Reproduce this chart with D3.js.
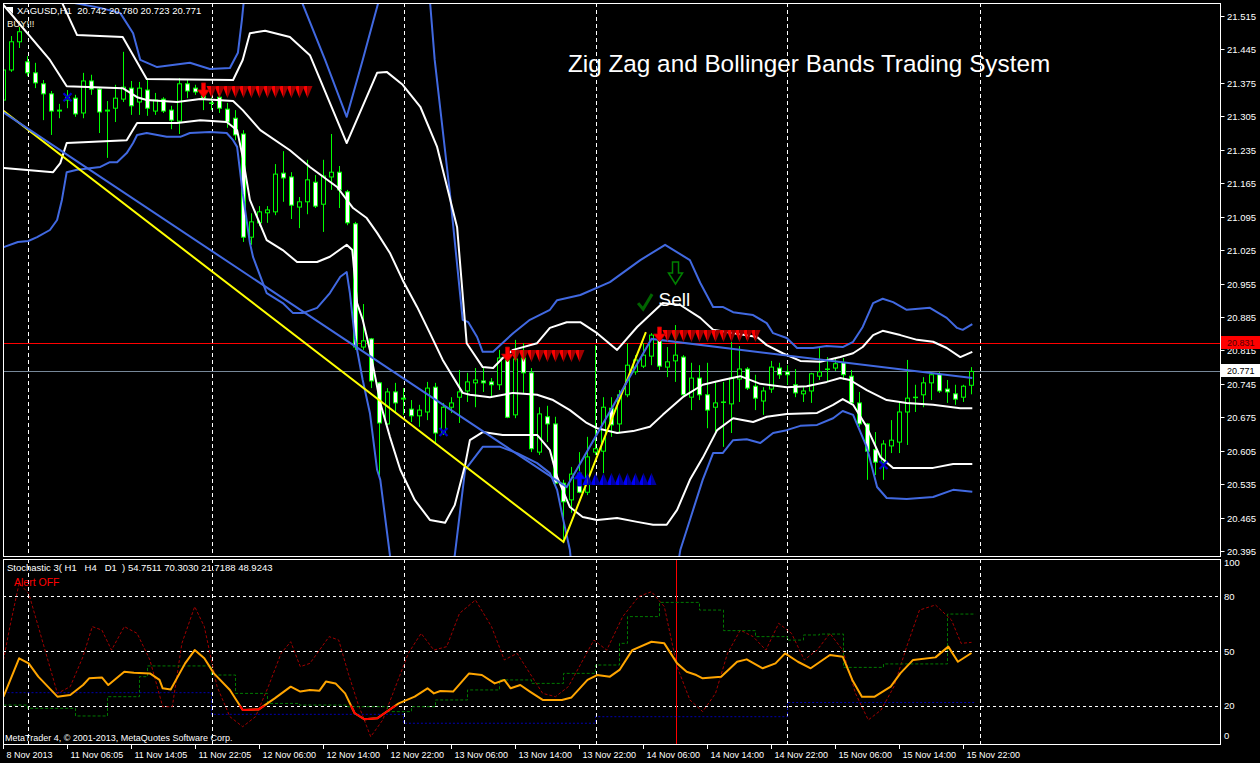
<!DOCTYPE html>
<html>
<head>
<meta charset="utf-8">
<script src="https://cdn.jsdelivr.net/npm/d3@7"></script>
<style>
  html, body { margin: 0; padding: 0; background: #000; overflow: hidden; }
  svg text { font-family: "Liberation Sans", Arial, sans-serif; white-space: pre; }
</style>
</head>
<body>
<svg id="chart" width="1260" height="763"></svg>
<script>
// ---- XAGUSD H1 candles (bar index 0 .. 121) ----
const opens = [21.339,21.402,21.461,21.419,21.396,21.373,21.352,21.316,21.339,21.343,
  21.312,21.379,21.362,21.316,21.322,21.341,21.364,21.335,21.360,21.316,
  21.341,21.318,21.295,21.373,21.364,21.348,21.333,21.345,21.320,21.301,
  21.268,21.052,21.082,21.103,21.105,21.186,21.178,21.115,21.126,21.167,
  21.121,21.178,21.188,21.147,21.080,20.822,20.839,20.747,20.661,20.728,
  20.713,20.692,20.678,20.686,20.738,20.642,20.696,20.717,20.730,20.747,
  20.751,20.749,20.743,20.795,20.680,20.799,20.768,20.602,20.676,20.661,
  20.537,20.502,20.558,20.518,20.602,20.604,20.694,20.661,20.722,20.770,
  20.782,20.803,20.837,20.780,20.793,20.801,20.717,20.757,20.722,20.696,
  20.707,20.703,20.755,20.776,20.740,20.709,20.734,20.778,20.770,20.743,
  20.724,20.730,20.761,20.776,20.778,20.789,20.761,20.705,20.661,20.607,
  20.581,20.615,20.623,20.686,20.717,20.722,20.747,20.764,20.734,20.724,
  20.717,20.742];
const highs = [21.465,21.473,21.492,21.431,21.417,21.381,21.358,21.331,21.360,21.350,
  21.396,21.392,21.366,21.337,21.371,21.440,21.379,21.377,21.385,21.354,
  21.345,21.327,21.385,21.381,21.371,21.354,21.345,21.354,21.333,21.318,
  21.276,21.102,21.117,21.117,21.205,21.232,21.188,21.136,21.214,21.182,
  21.214,21.268,21.201,21.151,21.084,20.912,20.841,20.749,20.736,20.747,
  20.736,20.711,20.701,20.749,20.747,20.705,20.717,20.774,20.768,20.778,
  20.780,20.757,20.816,20.820,20.837,20.830,20.778,20.696,20.699,20.676,
  20.544,20.571,20.602,20.634,20.826,20.717,20.717,20.732,20.830,20.805,
  20.830,20.851,20.843,20.822,20.868,20.805,20.789,20.784,20.789,20.749,
  20.749,20.833,20.824,20.780,20.764,20.738,20.793,20.789,20.784,20.776,
  20.738,20.768,20.820,20.801,20.799,20.799,20.774,20.728,20.663,20.644,
  20.627,20.669,20.705,20.795,20.743,20.759,20.770,20.770,20.753,20.743,
  20.743,20.780];
const lows = [21.297,21.398,21.448,21.389,21.364,21.297,21.266,21.301,21.322,21.304,
  21.301,21.350,21.270,21.218,21.293,21.335,21.308,21.308,21.306,21.308,
  21.312,21.278,21.268,21.343,21.350,21.318,21.318,21.312,21.281,21.255,
  21.042,21.036,21.075,21.082,21.098,21.126,21.090,21.071,21.100,21.113,
  21.063,21.151,21.113,21.077,20.816,20.816,20.736,20.554,20.659,20.686,
  20.680,20.665,20.655,20.669,20.621,20.638,20.684,20.663,20.707,20.696,
  20.728,20.717,20.732,20.673,20.673,20.726,20.602,20.596,20.623,20.533,
  20.414,20.475,20.516,20.512,20.596,20.558,20.634,20.642,20.717,20.764,
  20.778,20.784,20.774,20.759,20.749,20.717,20.690,20.711,20.652,20.644,
  20.613,20.642,20.707,20.732,20.690,20.680,20.726,20.755,20.743,20.717,
  20.707,20.705,20.753,20.749,20.772,20.753,20.701,20.655,20.544,20.554,
  20.544,20.600,20.600,20.617,20.686,20.696,20.711,20.726,20.705,20.701,
  20.707,20.723];
const closes = [21.402,21.461,21.482,21.396,21.375,21.352,21.316,21.318,21.345,21.310,
  21.379,21.362,21.314,21.318,21.343,21.366,21.327,21.364,21.322,21.339,
  21.316,21.297,21.373,21.358,21.356,21.343,21.332,21.322,21.293,21.266,
  21.052,21.084,21.105,21.109,21.184,21.176,21.119,21.126,21.172,21.117,
  21.180,21.188,21.151,21.082,20.822,20.835,20.751,20.663,20.728,20.705,
  20.715,20.678,20.690,20.736,20.642,20.696,20.705,20.728,20.749,20.753,
  20.747,20.743,20.799,20.675,20.797,20.768,20.609,20.682,20.661,20.537,
  20.498,20.556,20.518,20.592,20.609,20.696,20.659,20.722,20.784,20.795,
  20.805,20.847,20.782,20.791,20.805,20.722,20.757,20.722,20.690,20.705,
  20.706,20.757,20.776,20.736,20.715,20.730,20.780,20.764,20.764,20.726,
  20.730,20.766,20.770,20.775,20.787,20.764,20.705,20.661,20.604,20.581,
  20.619,20.627,20.686,20.715,20.716,20.747,20.764,20.730,20.728,20.713,
  20.740,20.771];

// ---- Bollinger band lines, [bar, price] ----
const bbUpperWhite = [[6.4,21.590],[7.4,21.540],[9.2,21.475],[14.9,21.471],[17.9,21.383],[28.7,21.381],
  [29.9,21.423],[30.8,21.479],[32.7,21.484],[35.8,21.471],[38.3,21.433],[42.9,21.249],[46.7,21.396],
  [47.9,21.398],[49.9,21.371],[52.1,21.325],[54.2,21.241],[56.7,21.073],[57.9,20.830],[59.9,20.780],
  [61.2,20.778],[62.4,20.799],[63.7,20.816],[66.7,20.830],[68.3,20.862],[70.4,20.874],[72.1,20.874],
  [74.2,20.851],[76.7,20.816],[79.2,20.864],[82.4,20.914],[84.6,20.910],[87.1,20.883],[88.7,20.858],
  [94.2,20.843],[95.4,20.826],[97.4,20.809],[99.6,20.793],[102.1,20.791],[104.6,20.801],[106.2,20.809],
  [107.4,20.822],[108.7,20.847],[109.9,20.856],[112.1,20.847],[114.2,20.837],[116.2,20.833],
  [117.9,20.820],[119.6,20.801],[121.1,20.812]];
const bbMiddle = [[0,21.538],[5.8,21.423],[7.9,21.368],[14.9,21.364],[16.7,21.345],[17.9,21.339],
  [21.7,21.335],[24.6,21.341],[28.7,21.337],[29.9,21.318],[32.1,21.276],[35.8,21.234],[38.3,21.199],
  [41.7,21.157],[43.7,21.113],[45.4,21.092],[46.7,21.061],[48.3,21.019],[49.9,20.962],[51.7,20.906],
  [53.3,20.851],[54.9,20.795],[57.4,20.726],[58.3,20.722],[60.8,20.717],[63.7,20.726],[66.7,20.722],
  [68.7,20.711],[70.8,20.690],[72.9,20.663],[74.2,20.652],[76.7,20.642],[78.7,20.646],[80.8,20.655],
  [82.4,20.680],[84.9,20.717],[87.4,20.743],[89.9,20.753],[92.1,20.761],[94.6,20.745],[97.9,20.738],
  [100.4,20.740],[102.9,20.749],[104.6,20.757],[105.8,20.753],[107.9,20.732],[110.4,20.711],
  [112.9,20.705],[116.2,20.701],[119.6,20.694],[121.1,20.694]];
const bbLowerWhite = [[0,21.197],[6.2,21.188],[7.1,21.207],[7.9,21.249],[15.4,21.255],[16.7,21.291],
  [21.7,21.291],[24.6,21.297],[27.9,21.293],[29.2,21.276],[29.9,21.220],[30.8,21.130],[32.9,21.046],
  [34.9,21.025],[36.7,21.000],[39.2,21.000],[40.8,21.011],[42.9,21.036],[43.6,21.025],[44.2,20.914],
  [44.9,20.879],[45.8,20.816],[47.1,20.705],[48.3,20.634],[49.6,20.565],[51.4,20.502],[53.3,20.460],
  [55.2,20.454],[56.4,20.491],[57.7,20.575],[58.3,20.627],[59.9,20.644],[62.4,20.638],[66.7,20.638],
  [68.3,20.606],[69.2,20.550],[70.8,20.487],[72.4,20.466],[74.2,20.460],[76.7,20.464],[79.2,20.456],
  [81.2,20.450],[82.9,20.450],[84.2,20.481],[85.8,20.544],[87.4,20.590],[89.2,20.648],[91.2,20.673],
  [93.7,20.665],[95.4,20.676],[97.9,20.682],[101.7,20.684],[103.7,20.701],[104.9,20.713],[106.2,20.701],
  [107.9,20.655],[109.6,20.592],[111.2,20.569],[116.2,20.569],[118.7,20.577],[121.1,20.577]];
const bbUpperBlue = [[7.3,21.590],[8.3,21.544],[12.1,21.532],[14.6,21.521],[16.2,21.479],[17.1,21.423],
  [19.2,21.408],[23.3,21.417],[25.8,21.404],[28.3,21.406],[29.3,21.438],[29.8,21.507],[30.3,21.590],
  [36.8,21.590],[37.4,21.540],[40.2,21.423],[42.9,21.304],[44.9,21.423],[46.8,21.540],[47.3,21.590],
  [53.1,21.590],[53.9,21.423],[55.8,21.144],[57.4,20.879],[58.1,20.874],[59.2,20.843],[59.9,20.812],
  [61.2,20.812],[63.7,20.851],[65.8,20.879],[68.3,20.900],[69.2,20.920],[72.1,20.931],[75.8,20.958],
  [79.6,21.004],[82.7,21.036],[85.8,21.004],[87.1,20.956],[88.7,20.906],[89.9,20.906],[91.2,20.895],
  [93.7,20.889],[95.4,20.872],[96.2,20.851],[97.9,20.841],[99.2,20.820],[101.2,20.820],[102.9,20.824],
  [104.9,20.822],[106.2,20.833],[107.4,20.864],[108.7,20.914],[109.9,20.923],[111.2,20.916],
  [112.9,20.900],[115.8,20.904],[117.9,20.883],[119.2,20.862],[119.9,20.858],[121.1,20.870]];
const bbLowerBlue = [[0,21.031],[1.8,21.042],[3.1,21.044],[4.2,21.052],[5.8,21.067],[6.7,21.088],
  [7.3,21.130],[7.9,21.188],[9.2,21.193],[12.1,21.199],[13.3,21.209],[14.2,21.209],[15.4,21.228],
  [16.2,21.249],[16.7,21.266],[17.9,21.270],[20.4,21.262],[22.1,21.262],[23.3,21.270],[25.8,21.272],
  [27.9,21.270],[28.7,21.255],[29.2,21.241],[29.9,21.144],[30.8,21.040],[31.2,21.010],[32.9,20.935],
  [34.9,20.914],[36.2,20.893],[37.4,20.893],[39.2,20.904],[40.8,20.935],[42.1,20.969],[42.9,20.979],
  [43.3,20.935],[43.9,20.843],[44.9,20.753],[45.8,20.684],[46.7,20.565],[47.1,20.544],[48.3,20.387],
  [48.7,20.292],[55.2,20.292],[56.4,20.385],[57.7,20.565],[59.9,20.613],[62.1,20.613],[64.2,20.600],
  [66.7,20.579],[68.3,20.558],[69.2,20.523],[69.9,20.466],[70.8,20.397],[71.4,20.292],[83.6,20.292],
  [84.6,20.397],[85.8,20.460],[87.4,20.544],[88.7,20.600],[89.9,20.600],[91.2,20.627],[92.9,20.629],
  [94.6,20.621],[96.2,20.642],[97.9,20.648],[99.6,20.657],[101.7,20.659],[103.7,20.673],[104.9,20.688],
  [106.2,20.680],[107.9,20.613],[109.2,20.529],[110.4,20.506],[112.9,20.504],[116.2,20.508],
  [118.7,20.523],[121.1,20.519]];

// ---- ZigZag legs, [bar, price] ----
const zigzagYellow = [[-0.44,21.322],[70,20.414],[80.3,20.853]];
const zigzagBlue = [[-0.44,21.318],[70.4,20.529],[81,20.839],[121.1,20.757]];

// ---- signals ----
const sellArrowBars = [25, 63, 82];
const sellArrowPrices = [21.375, 20.822, 20.864];
const sellTrailLengths = [13, 9, 12];
const buyArrowBars = [72];
const buyArrowPrices = [20.531];
const buyTrailLengths = [9];
const crossBars = [8, 55, 110];
const crossPrices = [21.345, 20.644, 20.575];
const checkBar = 80.2, checkPrice = 20.916;
const sellMarkBar = 84, sellMarkPrice = 21.000;

// ---- horizontal levels ----
const levelRed = 20.831;
const lastPrice = 20.771;

// ---- axes ----
const priceTicks = [21.515,21.445,21.375,21.305,21.235,21.165,21.095,21.025,20.955,
  20.885,20.815,20.745,20.675,20.605,20.535,20.465,20.395];
const stochTicks = [100, 80, 50, 20, 0];
const stochLevels = [80, 50, 20];
const timeLabels = ["8 Nov 2013","11 Nov 06:05","11 Nov 14:05","11 Nov 22:05","12 Nov 06:00",
  "12 Nov 14:00","12 Nov 22:00","13 Nov 06:00","13 Nov 14:00","13 Nov 22:00","14 Nov 06:00",
  "14 Nov 14:00","14 Nov 22:00","15 Nov 06:00","15 Nov 14:00","15 Nov 22:00"];
const timeLabelBars = [0,8,16,24,32,40,48,56,64,72,80,88,96,104,112,120];
const daySeparatorBars = [3, 26, 50, 74, 98, 122];
const signalBar = 84;

// ---- Stochastic 3 (H1 / H4 / D1 and their average), [bar, value] ----
const stochH1 = [[0,45.1],[0.8,63.4],[1.95,87.2],[3.15,81.7],[4.35,63.4],[6.74,26.7],[8.34,30.4],
  [9.94,46.9],[11.1,63.4],[12.3,61.5],[13.5,50.5],[15.1,63.4],[16.7,59.7],[18.3,45.1],[19.9,19.4],
  [21.1,19.4],[22.3,54.2],[23.9,74.4],[25.1,63.4],[26.7,30.4],[28.3,13.9],[29.9,8.4],[31.5,13.9],
  [33.1,30.4],[34.7,48.7],[35.9,55.1],[37.1,41.4],[38.3,43.2],[39.5,50.5],[40.7,57.9],[41.9,56.0],
  [43.1,37.7],[44.3,21.2],[45.9,2.9],[47.4,12.1],[49.0,30.4],[50.6,48.7],[52.2,59.7],[53.8,50.5],
  [55.4,52.4],[57.0,70.7],[59.0,78.0],[61.0,63.4],[62.6,45.1],[64.2,48.7],[65.8,37.7],[67.4,26.7],
  [69.0,24.9],[70.6,30.4],[72.2,43.2],[73.8,56.0],[75.4,50.5],[77.4,68.9],[79.4,79.9],[81.0,82.6],
  [82.6,74.4],[84.2,41.4],[85.8,23.1],[87.4,16.7],[89.0,26.7],[90.5,48.7],[92.1,61.5],[93.7,57.9],
  [95.3,50.5],[96.9,65.2],[98.5,59.7],[100.1,45.1],[101.7,50.5],[103.3,59.7],[104.9,50.5],
  [106.5,26.7],[108.1,12.1],[109.7,17.6],[111.3,30.4],[112.9,52.4],[114.5,72.5],[116.5,75.3],
  [118.5,67.0],[119.7,54.2],[121,54.75]];
const stochH4 = [[0,20.3],[3,18.5],[9,14.3],[13,24.9],[17,35.9],[18,41.8],[26,36.8],[29,26.7],
  [33,21.2],[37,20.3],[43,19.4],[48,16.7],[51,19.4],[54,23.1],[58,28.6],[62,34.1],[66,32.2],
  [70,37.7],[74,42.3],[77,54.2],[78,68.9],[82,76.7],[87,72.5],[90,61.2],[94,57.9],[98,56.0],
  [100,58.8],[102,59.3],[105,41.0],[110,42.9],[118,70.3],[121.5,70.3]];
const stochD1 = [[0,27.1],[26,15.2],[50,10.3],[74,13.9],[98,21.7],[121.5,21.7]];
const stochAvg = [[0,24.9],[1.95,46.0],[3.15,43.2],[4.35,35.9],[6.74,24.9],[8.34,25.8],[9.94,31.3],
  [10.7,35.0],[12.3,35.5],[13.1,31.3],[15.1,38.6],[16.3,38.1],[18.3,37.7],[19.5,34.1],[19.9,29.5],
  [20.9,28.9],[22.7,43.2],[23.9,50.5],[25.1,46.0],[26.3,37.7],[28.3,28.6],[29.9,17.6],[31.9,17.9],
  [33.9,24.0],[35.9,30.4],[37.1,27.7],[38.3,28.6],[39.5,28.2],[40.3,33.2],[41.5,32.2],[42.7,26.7],
  [43.9,15.8],[45.1,12.5],[46.7,13.0],[48.2,17.6],[49.4,21.2],[51.4,24.9],[53.0,29.5],[53.8,26.7],
  [54.6,28.0],[56.2,27.7],[58.2,37.7],[59.8,36.8],[61.4,32.2],[62.6,34.1],[63.4,29.5],[64.6,31.3],
  [65.8,27.7],[67.4,23.1],[69.8,23.1],[71.0,24.5],[73.0,34.1],[74.2,36.8],[75.8,35.9],[77.0,39.6],
  [78.6,50.5],[81.0,55.1],[82.6,54.2],[84.2,43.2],[85.4,38.6],[86.6,36.8],[87.4,35.0],[89.7,35.9],
  [91.7,44.1],[92.9,45.4],[94.9,40.5],[96.5,43.2],[97.7,48.7],[99.3,44.1],[100.9,40.5],[103.3,47.8],
  [104.9,46.9],[106.1,34.1],[107.3,24.9],[108.9,24.9],[110.9,30.4],[112.1,37.7],[113.7,45.1],
  [116.5,46.5],[118.1,52.4],[119.3,44.1],[121,48.92]];

// ---------------------------------------------------------------
const svg = d3.select("#chart");
const mainBox = {left: 3, right: 1220, top: 3, bottom: 556};
const subBox = {left: 3, right: 1220, top: 559, bottom: 744};

const x = d3.scaleLinear().domain([0, 121]).range([3.5, 971.5]);
const y = d3.scaleLinear().domain([20.395, 21.515]).range([551, 16]);
const ys = d3.scaleLinear().domain([0, 100]).range([742, 560]);

svg.append("rect").attr("width", 1260).attr("height", 763).attr("fill", "#000");

const defs = svg.append("defs");
defs.append("clipPath").attr("id", "clipMain").append("rect")
  .attr("x", mainBox.left + 1).attr("y", mainBox.top + 1)
  .attr("width", mainBox.right - mainBox.left - 1).attr("height", mainBox.bottom - mainBox.top - 1);
defs.append("clipPath").attr("id", "clipSub").append("rect")
  .attr("x", subBox.left + 1).attr("y", subBox.top + 1)
  .attr("width", subBox.right - subBox.left - 1).attr("height", subBox.bottom - subBox.top - 1);
defs.append("clipPath").attr("id", "clipOversold").append("rect")
  .attr("x", subBox.left + 1).attr("y", ys(20))
  .attr("width", subBox.right - subBox.left - 1).attr("height", subBox.bottom - ys(20));

const main = svg.append("g").attr("clip-path", "url(#clipMain)");
const subG = svg.append("g").attr("clip-path", "url(#clipSub)");

// day separators
daySeparatorBars.forEach(b => {
  const xx = Math.round(x(b)) + 0.5;
  main.append("line").attr("x1", xx).attr("x2", xx).attr("y1", mainBox.top).attr("y2", mainBox.bottom)
    .attr("stroke", "#fff").attr("stroke-dasharray", "4,3");
  subG.append("line").attr("x1", xx).attr("x2", xx).attr("y1", subBox.top).attr("y2", subBox.bottom)
    .attr("stroke", "#fff").attr("stroke-dasharray", "4,3");
});

// price levels
main.append("line").attr("x1", mainBox.left).attr("x2", mainBox.right)
  .attr("y1", Math.round(y(levelRed)) + 0.5).attr("y2", Math.round(y(levelRed)) + 0.5)
  .attr("stroke", "#ff0000");
main.append("line").attr("x1", mainBox.left).attr("x2", mainBox.right)
  .attr("y1", Math.round(y(lastPrice)) + 0.5).attr("y2", Math.round(y(lastPrice)) + 0.5)
  .attr("stroke", "#778899");

// candles
const candles = opens.map((o, i) => ({i, o, h: highs[i], l: lows[i], c: closes[i]}));
const cg = main.append("g");
cg.selectAll("line").data(candles).join("line")
  .attr("x1", d => x(d.i)).attr("x2", d => x(d.i))
  .attr("y1", d => y(d.h)).attr("y2", d => y(d.l))
  .attr("stroke", "#00ff00");
cg.selectAll("rect").data(candles).join("rect")
  .attr("x", d => x(d.i) - 2).attr("width", 4)
  .attr("y", d => Math.min(y(d.o), y(d.c)))
  .attr("height", d => Math.abs(y(d.o) - y(d.c)))
  .attr("fill", d => d.c < d.o ? "#ffffff" : "#000000")
  .attr("stroke", "#00ff00");

// bands and zigzag
const line = d3.line().x(d => x(d[0])).y(d => y(d[1]));
[[bbUpperBlue, "#4169e1"], [bbLowerBlue, "#4169e1"],
 [bbUpperWhite, "#ffffff"], [bbMiddle, "#ffffff"], [bbLowerWhite, "#ffffff"]].forEach(([pts, col]) => {
  main.append("path").attr("d", line(pts)).attr("fill", "none")
    .attr("stroke", col).attr("stroke-width", 2).attr("stroke-linejoin", "round");
});
main.append("path").attr("d", line(zigzagYellow)).attr("fill", "none")
  .attr("stroke", "#ffff00").attr("stroke-width", 2);
main.append("path").attr("d", line(zigzagBlue)).attr("fill", "none")
  .attr("stroke", "#4169e1").attr("stroke-width", 2);

// signal arrows
function bigDown(cx, top, col, dark) {
  main.append("path")
    .attr("d", `M${cx-2},${top} h4 v7 h4 l-6,8 l-6,-8 h4 z`)
    .attr("fill", col).attr("stroke", dark).attr("stroke-width", 0.8);
}
function bigUp(cx, bottom, col, dark) {
  main.append("path")
    .attr("d", `M${cx-2},${bottom} h4 v-7 h4 l-6,-8 l-6,8 h4 z`)
    .attr("fill", col).attr("stroke", dark).attr("stroke-width", 0.8);
}
function chevronDown(cx, top, col, dark) {
  main.append("path").attr("d", `M${cx-5},${top} L${cx},${top} L${cx},${top+12} Z`).attr("fill", col);
  main.append("path").attr("d", `M${cx},${top} L${cx+5},${top} L${cx},${top+12} Z`).attr("fill", dark);
}
function chevronUp(cx, bottom, col, dark) {
  main.append("path").attr("d", `M${cx-5},${bottom} L${cx},${bottom} L${cx},${bottom-12} Z`).attr("fill", col);
  main.append("path").attr("d", `M${cx},${bottom} L${cx+5},${bottom} L${cx},${bottom-12} Z`).attr("fill", dark);
}
sellArrowBars.forEach((b, k) => {
  const top = y(sellArrowPrices[k]);
  for (let j = sellTrailLengths[k]; j >= 1; j--) chevronDown(x(b + j), top + 3, "#ff0000", "#a00000");
  bigDown(x(b), top, "#ff0000", "#b00000");
});
buyArrowBars.forEach((b, k) => {
  const bottom = y(buyArrowPrices[k]);
  for (let j = buyTrailLengths[k]; j >= 1; j--) chevronUp(x(b + j), bottom - 1, "#0000ff", "#0000a0");
  bigUp(x(b), bottom, "#0000ff", "#0000a0");
});
crossBars.forEach((b, k) => {
  const cx = x(b), cy = y(crossPrices[k]);
  main.append("path").attr("d", `M${cx-4},${cy-4} L${cx+4},${cy+4} M${cx+4},${cy-4} L${cx-4},${cy+4}`)
    .attr("stroke", "#0000cd").attr("stroke-width", 2.2);
});
{
  const cx = x(checkBar), cy = y(checkPrice);
  main.append("path").attr("d", `M${cx-7},${cy+1} L${cx-2},${cy+7} L${cx+7},${cy-8}`)
    .attr("fill", "none").attr("stroke", "#006400").attr("stroke-width", 3);
  const sx = x(sellMarkBar), sy = y(sellMarkPrice);
  main.append("path").attr("d", `M${sx-3},${sy} h6 v11 h4 l-7,11 l-7,-11 h4 z`)
    .attr("fill", "none").attr("stroke", "#008000").attr("stroke-width", 1.5);
  main.append("text").attr("x", sx - 17).attr("y", sy + 44).attr("fill", "#fff")
    .attr("font-size", 19).text("Sell");
}

// title and header texts
svg.append("text").attr("x", 568).attr("y", 72).attr("fill", "#fff").attr("font-size", 24.3)
  .text("Zig Zag and Bollinger Bands Trading System");
svg.append("path").attr("d", "M6,7 L13,7 L13,14 Z").attr("fill", "#fff");
svg.append("text").attr("x", 17).attr("y", 14).attr("fill", "#fff").attr("font-size", 9.5)
  .text("XAGUSD,H1  20.742 20.780 20.723 20.771");
svg.append("text").attr("x", 7).attr("y", 27).attr("fill", "#f5e9cf").attr("font-size", 9.5)
  .text("BUY!!!");

// stochastic sub-window
stochLevels.forEach(v => {
  const yy = Math.round(ys(v)) + 0.5;
  subG.append("line").attr("x1", subBox.left).attr("x2", subBox.right).attr("y1", yy).attr("y2", yy)
    .attr("stroke", "#fff").attr("stroke-dasharray", "3,3");
});
subG.append("line").attr("x1", Math.round(x(signalBar)) + 0.5).attr("x2", Math.round(x(signalBar)) + 0.5)
  .attr("y1", subBox.top).attr("y2", subBox.bottom).attr("stroke", "#ff0000");
const sline = d3.line().x(d => x(d[0])).y(d => ys(d[1]));
const stepLine = d3.line().x(d => x(d[0])).y(d => ys(d[1])).curve(d3.curveStepAfter);
subG.append("path").attr("d", sline(stochH1)).attr("fill", "none")
  .attr("stroke", "#a00000").attr("stroke-dasharray", "3,2");
subG.append("path").attr("d", stepLine(stochH4)).attr("fill", "none")
  .attr("stroke", "#007800").attr("stroke-dasharray", "3,2");
subG.append("path").attr("d", stepLine(stochD1)).attr("fill", "none")
  .attr("stroke", "#0000b0").attr("stroke-dasharray", "2,2");
subG.append("path").attr("d", sline(stochAvg)).attr("fill", "none")
  .attr("stroke", "#ffa500").attr("stroke-width", 2).attr("stroke-linejoin", "round");
subG.append("g").attr("clip-path", "url(#clipOversold)")
  .append("path").attr("d", sline(stochAvg)).attr("fill", "none")
  .attr("stroke", "#ff0000").attr("stroke-width", 2).attr("stroke-linejoin", "round");

svg.append("text").attr("x", 7).attr("y", 571).attr("fill", "#fff").attr("font-size", 9.5)
  .text("Stochastic 3( H1   H4   D1  ) 54.7511 70.3030 21.7188 48.9243");
svg.append("text").attr("x", 14).attr("y", 586).attr("fill", "#ff0000").attr("font-size", 10.5)
  .text("Alert OFF");
svg.append("text").attr("x", 5).attr("y", 741).attr("fill", "#fff").attr("font-size", 9)
  .text("MetaTrader 4, \u00a9 2001-2013, MetaQuotes Software Corp.");

// frames
svg.append("rect").attr("x", mainBox.left + 0.5).attr("y", mainBox.top + 0.5)
  .attr("width", mainBox.right - mainBox.left).attr("height", mainBox.bottom - mainBox.top)
  .attr("fill", "none").attr("stroke", "#fff");
svg.append("rect").attr("x", subBox.left + 0.5).attr("y", subBox.top + 0.5)
  .attr("width", subBox.right - subBox.left).attr("height", subBox.bottom - subBox.top)
  .attr("fill", "none").attr("stroke", "#fff");

// price axis
const axisG = svg.append("g");
priceTicks.forEach(p => {
  const yy = Math.round(y(p)) + 0.5;
  axisG.append("line").attr("x1", mainBox.right + 0.5).attr("x2", mainBox.right + 4.5)
    .attr("y1", yy).attr("y2", yy).attr("stroke", "#fff");
  axisG.append("text").attr("x", 1227).attr("y", yy + 3.5).attr("fill", "#fff")
    .attr("font-size", 9.5).text(p.toFixed(3));
});
function priceTag(p, bg, fg) {
  const yy = Math.round(y(p));
  axisG.append("rect").attr("x", 1221).attr("y", yy - 7).attr("width", 39).attr("height", 13).attr("fill", bg);
  axisG.append("text").attr("x", 1227).attr("y", yy + 2.5).attr("fill", fg)
    .attr("font-size", 9).text(p.toFixed(3));
}
priceTag(levelRed, "#ff0000", "#500000");
priceTag(lastPrice, "#ffffff", "#000000");

// stochastic axis
stochTicks.forEach(v => {
  const yy = ys(v);
  const off = v === 100 ? 6 : v === 0 ? -3 : 3.5;
  axisG.append("text").attr("x", 1224).attr("y", yy + off).attr("fill", "#fff")
    .attr("font-size", 9.5).text(v);
});

// time axis
timeLabelBars.forEach((b, k) => {
  const xx = Math.round(x(b)) - 0.5;
  axisG.append("line").attr("x1", xx).attr("x2", xx).attr("y1", subBox.bottom).attr("y2", subBox.bottom + 5)
    .attr("stroke", "#fff");
  axisG.append("text").attr("x", xx + 3).attr("y", 758).attr("fill", "#fff")
    .attr("font-size", 9).text(timeLabels[k]);
});
</script>
</body>
</html>
